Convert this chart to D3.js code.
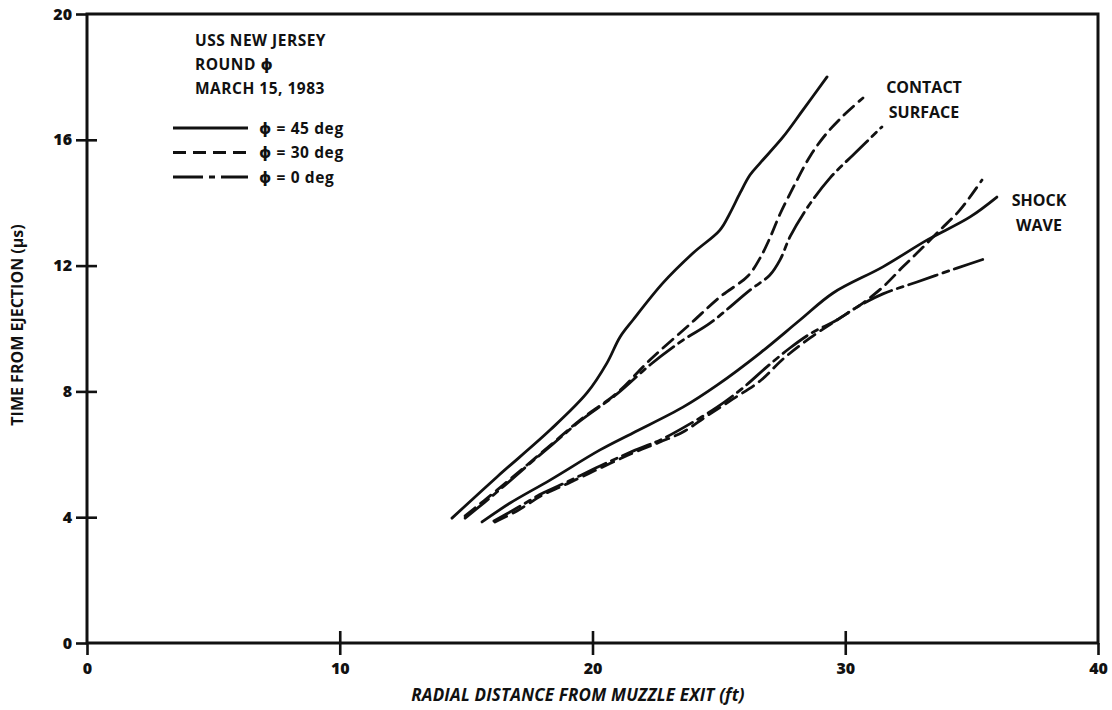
<!DOCTYPE html>
<html>
<head>
<meta charset="utf-8">
<script src="https://cdn.jsdelivr.net/npm/d3@7"></script>
<style>
  html, body { margin: 0; padding: 0; background: #fff; }
  svg { display: block; }
  text { font-family: "Open Sans", "DejaVu Sans", sans-serif; font-weight: 700; fill: #111; }
</style>
</head>
<body>
<svg id="chart" width="1112" height="710"></svg>
<script>
// Axis ticks
const xTicks = [0, 10, 20, 30, 40];
const yTicks = [0, 4, 8, 12, 16, 20];

// Contact surface trajectories [radial distance ft, time us]
const contact45 = [[14.44,3.97],[16.22,5.28],[18.32,6.77],[19.78,7.95],[20.57,8.90],[21.09,9.73],[21.60,10.27],[22.79,11.45],[23.98,12.40],[25.04,13.13],[25.44,13.67],[25.84,14.31],[26.23,14.88],[26.63,15.26],[27.54,16.09],[28.33,16.95],[29.28,18.00]];
const contact30 = [[14.96,4.04],[16.22,4.86],[17.41,5.66],[18.44,6.36],[19.51,7.09],[20.97,7.95],[22.27,9.00],[23.86,10.14],[25.04,11.00],[26.15,11.67],[26.63,12.24],[27.02,12.88],[27.42,13.64],[28.01,14.59],[28.64,15.52],[29.28,16.22],[29.99,16.82],[30.70,17.33]];
const contact0 = [[14.96,3.97],[16.22,4.80],[17.41,5.63],[18.44,6.33],[19.51,7.06],[20.97,7.92],[22.27,8.84],[23.58,9.63],[24.65,10.17],[26.23,11.22],[27.02,11.70],[27.42,12.18],[27.81,12.91],[28.49,13.83],[29.40,14.79],[30.39,15.58],[31.45,16.41]];

// Shock wave trajectories
const shock45 = [[15.63,3.85],[16.74,4.45],[18.32,5.18],[20.30,6.14],[21.60,6.68],[23.58,7.50],[24.93,8.20],[26.63,9.22],[28.21,10.27],[29.52,11.13],[31.49,11.96],[33.23,12.81],[34.94,13.55],[36.00,14.18]];
const shock30 = [[16.14,3.85],[17.01,4.20],[18.04,4.71],[18.99,5.06],[20.30,5.56],[21.60,6.04],[22.67,6.39],[23.58,6.71],[24.53,7.22],[25.56,7.76],[26.63,8.33],[27.54,9.03],[28.61,9.70],[29.67,10.27],[30.70,10.81],[31.49,11.32],[32.28,11.96],[33.08,12.59],[33.75,13.13],[34.54,13.77],[35.41,14.72]];
const shock0 = [[16.10,3.88],[17.01,4.29],[18.04,4.77],[18.99,5.12],[20.30,5.63],[21.60,6.10],[22.67,6.45],[23.58,6.84],[24.93,7.50],[25.95,8.11],[26.90,8.78],[27.81,9.38],[28.61,9.83],[29.67,10.27],[30.46,10.68],[31.49,11.10],[32.84,11.48],[34.42,11.92],[35.61,12.24]];

// Legend entries and annotation text
const legendLabels = ["\u03D5 = 45 deg", "\u03D5 = 30 deg", "\u03D5 = 0 deg"];
const titleLines = ["USS NEW JERSEY", "ROUND \u03D5", "MARCH 15, 1983"];

const dashStyles = [null, "13,7", "30,6,6,6"];

const svg = d3.select("#chart");
const plotLeft = 87, plotRight = 1098, plotTop = 14, plotBottom = 643;

const x = d3.scaleLinear().domain([0, 40]).range([plotLeft, plotRight]);
const y = d3.scaleLinear().domain([0, 20]).range([plotBottom, plotTop]);

const ink = "#111";

// Frame
svg.append("rect")
  .attr("x", plotLeft).attr("y", plotTop)
  .attr("width", plotRight - plotLeft).attr("height", plotBottom - plotTop)
  .attr("fill", "none").attr("stroke", ink).attr("stroke-width", 3);

// Bottom axis: labels and outward ticks
const gx = svg.append("g").attr("transform", `translate(0,${plotBottom})`)
  .call(d3.axisBottom(x).tickValues(xTicks).tickSize(12).tickPadding(8).tickFormat(d3.format("d")));
// Inward ticks crossing the axis
const gx2 = svg.append("g").attr("transform", `translate(0,${plotBottom})`)
  .call(d3.axisTop(x).tickValues(xTicks.slice(1, -1)).tickSize(12).tickFormat(""));

// Left axis: labels and outward ticks
const gy = svg.append("g").attr("transform", `translate(${plotLeft},0)`)
  .call(d3.axisLeft(y).tickValues(yTicks).tickSize(11).tickPadding(4).tickFormat(d3.format("d")));
const gy2 = svg.append("g").attr("transform", `translate(${plotLeft},0)`)
  .call(d3.axisRight(y).tickValues(yTicks.slice(1, -1)).tickSize(10).tickFormat(""));

[gx, gx2, gy, gy2].forEach(g => {
  g.select(".domain").remove();
  g.selectAll(".tick line").attr("stroke", ink).attr("stroke-width", 2.6);
  g.selectAll(".tick text").attr("fill", ink).style("font-size", "16px").style("font-weight", 800)
    .style("font-family", "'Open Sans', sans-serif");
});

// Axis titles
svg.append("text")
  .attr("x", 578).attr("y", 701)
  .attr("text-anchor", "middle")
  .style("font-size", "17px").style("font-style", "italic")
  .style("letter-spacing", "0.2px")
  .text("RADIAL DISTANCE FROM MUZZLE EXIT (ft)");

svg.append("text")
  .attr("transform", "translate(23,325) rotate(-90)")
  .attr("text-anchor", "middle")
  .style("font-size", "16px")
  .text("TIME FROM EJECTION (\u03BCs)");

// Trajectory curves
const line = d3.line()
  .x(d => x(d[0])).y(d => y(d[1]))
  .curve(d3.curveCatmullRom.alpha(0.5));

const series = [
  { data: contact45, dash: dashStyles[0] },
  { data: contact30, dash: dashStyles[1] },
  { data: contact0, dash: dashStyles[2] },
  { data: shock45, dash: dashStyles[0] },
  { data: shock30, dash: dashStyles[1] },
  { data: shock0, dash: dashStyles[2] }
];

svg.append("g").selectAll("path").data(series).join("path")
  .attr("d", d => line(d.data))
  .attr("fill", "none")
  .attr("stroke", ink)
  .attr("stroke-width", 2.8)
  .attr("stroke-linecap", "round")
  .attr("stroke-dasharray", d => d.dash);

// Title block
svg.append("g").selectAll("text").data(titleLines).join("text")
  .attr("x", 195).attr("y", (d, i) => 46 + i * 24)
  .style("font-size", "15.5px")
  .style("letter-spacing", "0.5px")
  .text(d => d);

// Legend
const lg = svg.append("g").selectAll("g").data(legendLabels).join("g")
  .attr("transform", (d, i) => `translate(0,${128 + i * 24.5})`);
lg.append("line")
  .attr("x1", 173).attr("x2", 248).attr("y1", 0).attr("y2", 0)
  .attr("stroke", ink).attr("stroke-width", 2.8)
  .attr("stroke-dasharray", (d, i) => dashStyles[i]);
lg.append("text")
  .attr("x", 259).attr("y", 5.5)
  .style("font-size", "15.5px")
  .style("letter-spacing", "0.6px")
  .text(d => d);

// Curve group annotations
const notes = [
  { x: 924, y: 93, t: "CONTACT" },
  { x: 924, y: 118, t: "SURFACE" },
  { x: 1039, y: 206, t: "SHOCK" },
  { x: 1039, y: 231, t: "WAVE" }
];
svg.append("g").selectAll("text").data(notes).join("text")
  .attr("x", d => d.x).attr("y", d => d.y)
  .attr("text-anchor", "middle")
  .style("font-size", "16px")
  .text(d => d.t);
</script>
</body>
</html>
